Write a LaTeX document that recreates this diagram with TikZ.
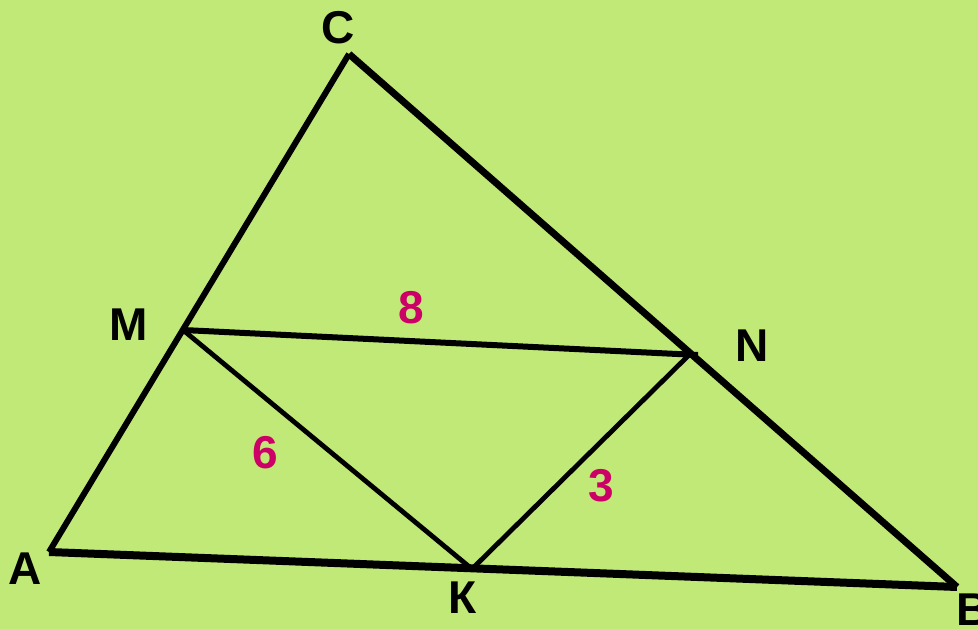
\documentclass[tikz,border=0pt]{standalone}
\usepackage{fontspec}
\setmainfont{Liberation Sans}
\definecolor{bggreen}{RGB}{192,233,120}
\definecolor{numred}{RGB}{204,0,102}
\begin{document}
\begin{tikzpicture}[x=1pt,y=-1pt,
  vlabel/.style={font=\fontsize{46}{50}\selectfont\bfseries, text=black, inner sep=0pt},
  nlabel/.style={font=\fontsize{46}{50}\selectfont\bfseries, text=numred, inner sep=0pt},
  thickside/.style={line width=8pt, line cap=butt},
  cbside/.style={line width=7pt, line cap=butt},
  midside/.style={line width=6pt, line cap=butt},
  thinside/.style={line width=4.8pt, line cap=butt}]
\fill[bggreen] (0,0) rectangle (978,629);
\useasboundingbox (0,0) rectangle (978,629);
\coordinate (A) at (49,552);
\coordinate (C) at (349,54);
\coordinate (B) at (957,587);
\coordinate (M) at (183,330);
\coordinate (N) at (690,354);
\coordinate (Nend) at (698,355);
\coordinate (K) at (472,569);
\draw[thickside] (A) -- (B);
\draw[cbside] (C) -- (B);
\draw[midside] (A) -- (C);
\draw[midside] (M) -- (Nend);
\draw[thinside] (M) -- (K);
\draw[thinside] (K) -- (N);
\node[vlabel] (lC) at (338,28) {C};
\node[vlabel] (lM) at (129,325) {M};
\node[vlabel] (lN) at (752,346) {N};
\node[vlabel] (lA) at (25,569) {A};
\node[vlabel] (lK) at (463,598) {К};
\node[vlabel] (lB) at (973,610) {B};
\node[nlabel] (n8) at (411,308) {8};
\node[nlabel] (n6) at (265,453) {6};
\node[nlabel] (n3) at (601,486) {3};
\end{tikzpicture}
\end{document}
